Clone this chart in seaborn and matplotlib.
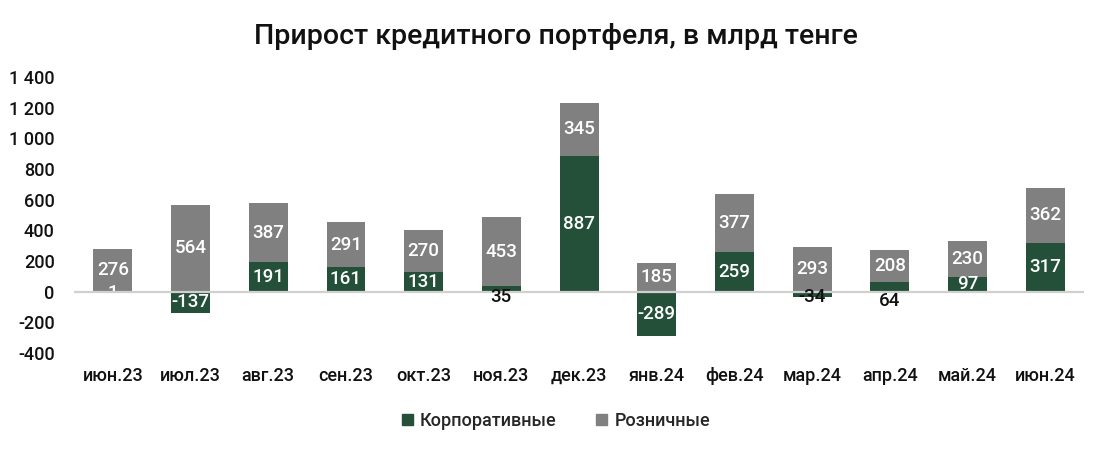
import matplotlib
matplotlib.use("Agg")
import matplotlib.pyplot as plt
from matplotlib.patches import Patch
import seaborn as sns
import numpy as np

months = ["июн.23", "июл.23", "авг.23", "сен.23", "окт.23", "ноя.23", "дек.23",
          "янв.24", "фев.24", "мар.24", "апр.24", "май.24", "июн.24"]
corporate = [1, -137, 191, 161, 131, 35, 887, -289, 259, -34, 64, 97, 317]
retail = [276, 564, 387, 291, 270, 453, 345, 185, 377, 293, 208, 230, 362]
yticks = [-400, -200, 0, 200, 400, 600, 800, 1000, 1200, 1400]
ytick_labels = ["-400", "-200", "0", "200", "400", "600", "800", "1 000", "1 200", "1 400"]

GREEN = "#24503a"
GRAY = "#808080"

sns.set_theme(style="white")
plt.rcParams["font.family"] = ["Roboto", "DejaVu Sans"]

fig = plt.figure(figsize=(11.12, 4.5), dpi=100)
ax = fig.add_axes([0.0665, 0.2156, 0.9085, 0.6134])

corp = np.array(corporate, dtype=float)
ret = np.array(retail, dtype=float)
base = np.clip(corp, 0, None)
total = base + ret

sns.barplot(x=months, y=total, color=GRAY, saturation=1, width=0.5, linewidth=0, ax=ax)
sns.barplot(x=months, y=corp, color=GREEN, saturation=1, width=0.5, linewidth=0, ax=ax)

ax.axhline(0, color="#d0d0d0", lw=1.6, zorder=3)

fs = 13.5
fw = "medium"
for i, (c, r, b) in enumerate(zip(corp, ret, base)):
    ax.text(i, b + r / 2, f"{int(r)}", ha="center", va="center", color="white",
            fontsize=fs, fontweight=fw, zorder=5)
    if abs(c) < 10:
        ax.text(i, c / 2 - 8, f"{int(c)}", ha="center", va="center", color="white",
                fontsize=fs, fontweight=fw, zorder=2)
    elif abs(c) < 70:
        y = c / 2 - 20 if c < 0 else -c
        ax.text(i, y, f"{int(c)}", ha="center", va="center", color="#111111",
                fontsize=fs, fontweight=fw, zorder=5)
    else:
        ax.text(i, c / 2, f"{int(c)}", ha="center", va="center", color="white",
                fontsize=fs, fontweight=fw, zorder=5)

ax.set_ylim(-400, 1400)
ax.set_xlim(-0.5, len(months) - 0.5)
ax.set_yticks(yticks)
ax.set_yticklabels(ytick_labels)
ax.tick_params(axis="y", labelsize=13, length=0, pad=14, colors="#111111")
ax.tick_params(axis="x", labelsize=13, length=0, pad=10, colors="#111111")
for lab in ax.get_xticklabels() + ax.get_yticklabels():
    lab.set_fontweight(fw)
ax.set_xlabel("")
ax.set_ylabel("")
for s in ax.spines.values():
    s.set_visible(False)

fig.text(0.5, 0.918, "Прирост кредитного портфеля, в млрд тенге", ha="center", va="center",
         fontsize=20.5, fontweight=fw, color="#111111")

handles = [Patch(color=GREEN, label="Корпоративные"), Patch(color=GRAY, label="Розничные")]
fig.legend(handles=handles, loc="center", bbox_to_anchor=(0.5, 0.065), ncol=2, frameon=False,
           prop={"size": 13, "weight": fw}, handlelength=0.6, handleheight=0.6,
           handletextpad=0.4, columnspacing=2.2)

fig.savefig("out.png", dpi=100)
